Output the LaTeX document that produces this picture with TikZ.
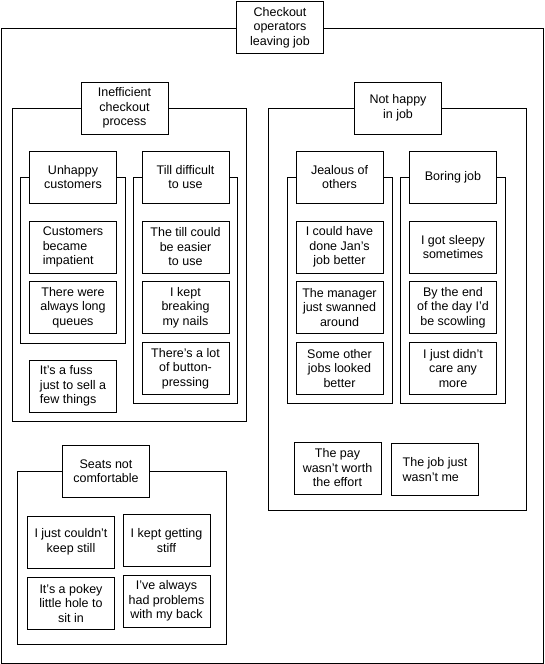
\documentclass[tikz,border=0pt]{standalone}
\usepackage{fontspec}
\setmainfont{Liberation Sans}
\begin{document}
\begin{tikzpicture}[x=1pt, y=-1pt, line width=1pt,
	box/.style={draw, fill=white, minimum width=87pt, minimum height=52pt, inner sep=1pt, align=center, font=\fontsize{12.5}{14.5}\selectfont},
	leftbox/.style={box, align=left}]

	\useasboundingbox (0,0) rectangle (544,664);

	% frames
	\draw (1,28) rectangle (543,663);
	\draw (12,108) rectangle (246,421);
	\draw (20,177) rectangle (125,343);
	\draw (133,177) rectangle (237,403);
	\draw (268,108) rectangle (526,510);
	\draw (287,177) rectangle (392,403);
	\draw (400,177) rectangle (505,403);
	\draw (17,471) rectangle (226,644);

	% titles
	\node[box] (leaving) at (280,27.5) {Checkout\\operators\\leaving job};
	\node[box] (inefficient) at (124.5,108) {Inefficient\\checkout\\process};
	\node[box] (unhappy) at (73,177) {Unhappy\\customers};
	\node[box] (till) at (185.5,177) {Till difficult\\to use};
	\node[box] (nothappy) at (398,108) {Not happy\\in job};
	\node[box] (jealous) at (339.5,177) {Jealous of\\others};
	\node[box] (boring) at (453,177) {Boring job};
	\node[box] (seats) at (106,471) {Seats not\\comfortable};

	% inefficient checkout process
	\node[leftbox] (impatient) at (73,247) {Customers\\became\\impatient};
	\node[box] (queues) at (73,307.5) {There were\\always long\\queues};
	\node[leftbox] (fuss) at (73,386) {It's a fuss\\just to sell a\\few things};
	\node[box] (easier) at (185.5,247) {The till could\\be easier\\to use};
	\node[box] (nails) at (185.5,307.5) {I kept\\breaking\\my nails};
	\node[box] (button) at (185.5,368.5) {There's a lot\\of button-\\pressing};

	% not happy in job
	\node[box] (janjob) at (339.5,247) {I could have\\done Jan's\\job better};
	\node[box] (manager) at (339.5,307.5) {The manager\\just swanned\\around};
	\node[box] (otherjobs) at (339.5,368.5) {Some other\\jobs looked\\better};
	\node[box] (sleepy) at (453,247) {I got sleepy\\sometimes};
	\node[box] (scowling) at (453,307.5) {By the end\\of the day I'd\\be scowling};
	\node[box] (care) at (453,368.5) {I just didn't\\care any\\more};
	\node[box] (pay) at (337.5,468) {The pay\\wasn't worth\\the effort};
	\node[leftbox] (notme) at (435,469.5) {The job just\\wasn't me};

	% seats not comfortable
	\node[box] (still) at (71,542) {I just couldn't\\keep still};
	\node[box] (stiff) at (166.5,540.5) {I kept getting\\stiff};
	\node[box] (pokey) at (71,603.5) {It's a pokey\\little hole to\\sit in};
	\node[box] (back) at (166.5,601) {I've always\\had problems\\with my back};

\end{tikzpicture}
\end{document}
